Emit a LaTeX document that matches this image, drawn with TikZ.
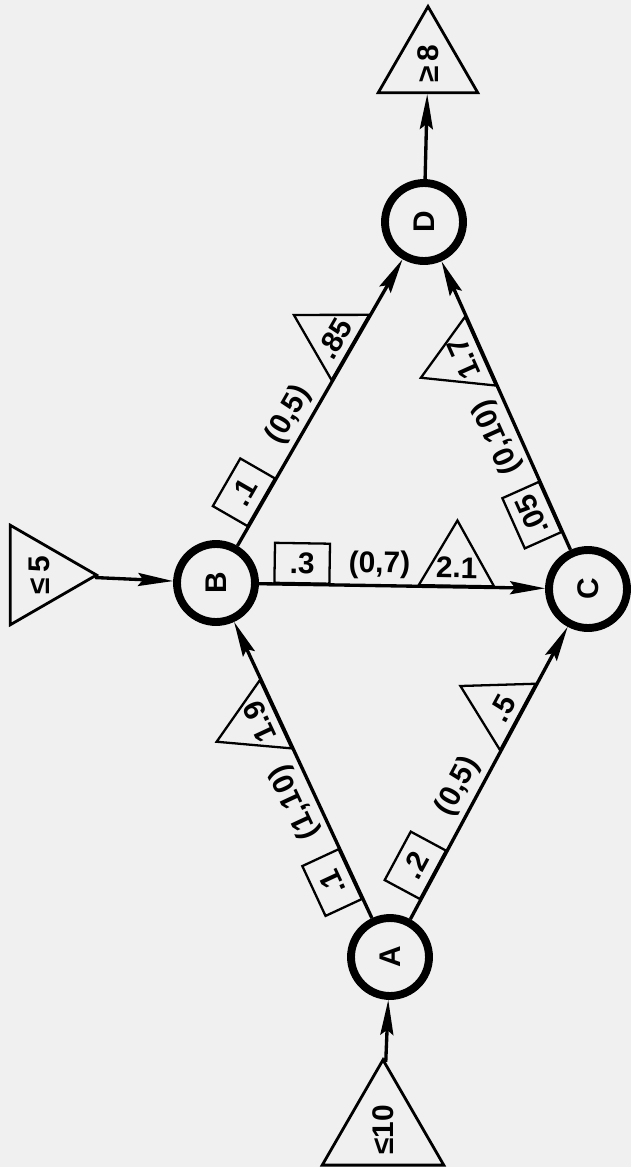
\documentclass[tikz,border=0pt]{standalone}
\usepackage{fontspec}
\setmainfont{Liberation Sans}
\usetikzlibrary{shapes.geometric, arrows.meta, positioning}

\newcommand{\lowered}[1]{\raisebox{-8pt}[0pt][0pt]{\makebox[0pt]{#1}}}

\begin{document}
\begin{tikzpicture}[
  x=0.02cm, y=-0.02cm,
  every node/.style={font=\fontsize{17}{19}\selectfont\bfseries},
  event/.style={circle, draw, line width=4.5pt, minimum size=1.56cm, inner sep=0pt, rotate=90},
  limit/.style={regular polygon, regular polygon sides=3, draw, line width=1.6pt, minimum size=2.3cm, inner sep=0pt, rotate=90},
  arr/.style={-{Stealth[length=0.7cm, width=0.26cm, inset=0.1cm]}, line width=1.9pt},
  ontop/.style={sloped, allow upside down, anchor=south},
  cost/.style={ontop, rectangle, draw, line width=1.3pt, minimum width=1.1cm, minimum height=0.8cm, inner sep=1pt},
  bounds/.style={ontop, inner sep=3pt},
  gain/.style={ontop, regular polygon, regular polygon sides=3, draw, line width=1.3pt, minimum size=1.74cm, inner sep=0pt},
]
\path[use as bounding box, fill=black!6] (0,0) rectangle (631,1167);

%% Events
\node[event] (A) at (390,957) {A};
\node[event] (B) at (216,583) {B};
\node[event] (C) at (588,589) {C};
\node[event] (D) at (424,222) {D};

%% Limits
\node[limit, shape border rotate=-90] (le10) at (383,1130) {≤10};
\node[limit, shape border rotate=180] (le5)  at (39,575)   {≤\,5};
\node[limit, shape border rotate=-90] (ge8)  at (428,64)   {≥\,8};

\draw[arr] (le10) -- (A);
\draw[arr] (le5) -- (B);
\draw[arr] (D) -- (ge8);

%% Activities: cost, (min,max), gain
\foreach \s/\t/\c/\r/\g in {A/B/.1/{(1,10)}/1.9, A/C/.2/{(0,5)}/.5, B/C/.3/{(0,7)}/2.1, B/D/.1/{(0,5)}/.85, C/D/.05/{(0,10)}/1.7} {
  \draw[arr] (\s) -- node[cost, pos=.15] {\c}
                     node[bounds, pos=.42] {\r}
                     node[gain, pos=.69] {\lowered{\g}} (\t);
}
\end{tikzpicture}
\end{document}
